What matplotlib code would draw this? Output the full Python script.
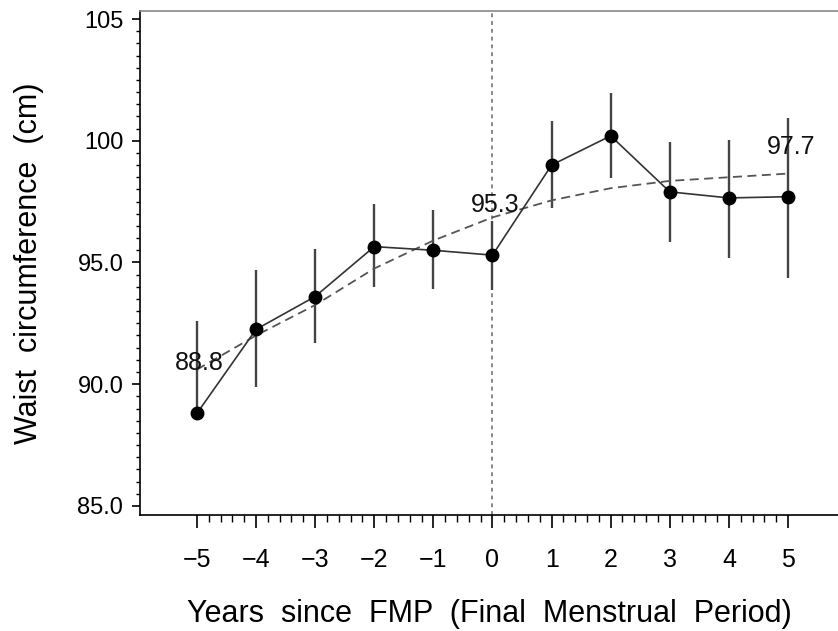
import matplotlib
matplotlib.use('Agg')
import matplotlib.pyplot as plt
import numpy as np
from matplotlib.ticker import FixedLocator

plt.rcParams['font.family'] = ['Liberation Sans', 'DejaVu Sans']

# years relative to the final menstrual period
years = [-5, -4, -3, -2, -1, 0, 1, 2, 3, 4, 5]
waist = [88.8, 92.25, 93.6, 95.65, 95.5, 95.3, 99.0, 100.2, 97.9, 97.65, 97.7]
ci_low = [88.8, 89.9, 91.7, 94.0, 93.9, 93.85, 97.25, 98.45, 95.85, 95.2, 94.35]
ci_high = [92.6, 94.7, 95.55, 97.4, 97.15, 96.7, 100.8, 101.95, 99.95, 100.05, 100.95]

# smoothed trend
trend = [90.6, 92.0, 93.25, 94.75, 95.9, 96.85, 97.55, 98.05, 98.35, 98.5, 98.65]

labelled = [-5, 0, 5]

fig = plt.figure(figsize=(8.38, 6.31), dpi=100)
ax = fig.add_axes([0.167, 0.184, 0.833, 0.799])

ax.axvline(0, color='#888888', lw=1.4, ls=(0, (2, 2)), zorder=1)

low_err = np.array(waist) - np.array(ci_low)
high_err = np.array(ci_high) - np.array(waist)
ax.errorbar(years, waist, yerr=[low_err, high_err], fmt='none',
            ecolor='#444444', elinewidth=1.7, capsize=0, zorder=2)
ax.plot(years, trend, color='#555555', lw=1.3, ls=(0, (5, 3)), zorder=3)
ax.plot(years, waist, color='#333333', lw=1.2, marker='o', ms=9,
        mfc='black', mec='black', zorder=4)

for x, y in zip(years, waist):
    if x in labelled:
        ax.annotate('%.1f' % y, (x, y), xytext=(2, 36), textcoords='offset points',
                    ha='center', va='center', fontsize=18, color='#111111')

ax.set_xlim(-5.964, 5.846)
ax.set_ylim(84.63, 105.34)

ax.xaxis.set_major_locator(FixedLocator(years))
ax.xaxis.set_minor_locator(FixedLocator(np.arange(-5, 5.01, 0.2)))
ax.set_xticklabels(['\u22125', '\u22124', '\u22123', '\u22122', '\u22121',
                    '0', '1', '2', '3', '4', '5'])
ax.yaxis.set_major_locator(FixedLocator([85, 90, 95, 100, 105]))
ax.yaxis.set_minor_locator(FixedLocator(np.arange(85, 105.01, 0.5)))
ax.set_yticklabels(['85.0', '90.0', '95.0', '100', '105'])

ax.tick_params(axis='x', which='major', direction='out', length=9.5, width=1.2,
               pad=14, labelsize=18)
ax.tick_params(axis='x', which='minor', direction='out', length=5, width=1)
ax.tick_params(axis='y', which='major', direction='out', length=6, width=1.2,
               pad=6, labelsize=17)
ax.tick_params(axis='y', which='minor', direction='out', length=3, width=1)

ax.spines['right'].set_visible(False)
ax.spines['top'].set_color('#888888')
ax.spines['top'].set_linewidth(1.2)
ax.spines['left'].set_linewidth(1.2)
ax.spines['bottom'].set_linewidth(1.2)

ax.set_xlabel('Years  since  FMP  (Final  Menstrual  Period)', fontsize=22, labelpad=20)
ax.set_ylabel('Waist  circumference  (cm)', fontsize=22, labelpad=24)

fig.savefig('out.png', dpi=100)
